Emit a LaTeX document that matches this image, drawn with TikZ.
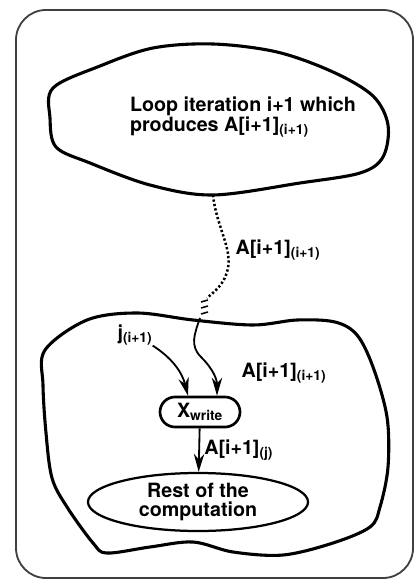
\documentclass[tikz,border=0pt]{standalone}
\usepackage{fontspec}
\setmainfont{TeX Gyre Heros}
\usepackage{tikz}
\usetikzlibrary{shapes.geometric, shapes.misc, arrows.meta, positioning, calc}
\tikzstyle{txt} = [font=\fontsize{14}{14}\selectfont\bfseries,
inner sep=0pt]
\tikzstyle{blob} = [line width=2.2pt,
line join=round]
\tikzstyle{frame} = [line width=1.3pt,
draw=black!75,
rounded corners=0.75cm]
\tikzstyle{writer} = [rounded rectangle,
draw=black,
line width=1.9pt,
minimum width=2cm,
minimum height=0.75cm,
inner sep=1pt]
\tikzstyle{rest} = [ellipse,
draw=black,
line width=1.6pt,
minimum width=5.5cm,
minimum height=1.45cm,
align=center]
\tikzstyle{arrow} = [line width=1.3pt, -{Stealth[length=4.5mm, width=2.6mm]}]
\tikzstyle{remote} = [line width=1.8pt, dash pattern=on 1.6pt off 1.6pt]

\begin{document}
\begin{tikzpicture}[x=0.025cm, y=-0.025cm]
\useasboundingbox (0,0) rectangle (418,582);
\draw[frame] (16,10) rectangle (413,578);

% producing loop iteration
\draw[blob] plot[smooth cycle, tension=0.55] coordinates {(53,88) (100,66) (153,48) (213,44) (277,52) (333,72) (373,96) (388,125) (383,157) (360,173) (300,183) (213,195) (150,185) (90,163) (56,147) (50,118)};
\node (loop) [txt, align=left] at (243,117) {Loop iteration i+1 which\\ produces A[i+1]\textsubscript{(i+1)}};
\coordinate (prodout) at (213,195);

% consuming side
\draw[blob] plot[smooth cycle, tension=0.55] coordinates {(45,350) (87,320) (137,313) (193,320) (253,325) (297,320) (335,322) (357,335) (373,367) (387,417) (388,467) (380,507) (370,527) (333,543) (283,555) (233,552) (193,542) (150,547) (107,553) (93,543) (67,507) (52,478) (46,433) (43,385)};
\node (xwrite) [writer, txt] at (200,412) {X\textsubscript{write}};
\node (rest) [rest, txt] at (198,502) {Rest of the\\computation};
\node (jidx) [txt] at (135,335) {j\textsubscript{(i+1)}};
\node (aloc) [txt] at (284,373) {A[i+1]\textsubscript{(i+1)}};
\node (aflow) [txt] at (278,250) {A[i+1]\textsubscript{(i+1)}};
\coordinate (brk) at (207,298);
\coordinate (brkend) at (200,318);

\draw[remote] (prodout) .. controls (216,225) and (232,248) .. (228,268) .. controls (225,284) and (214,292) .. (brk);
\foreach \t in {0,6,12}
    \draw[line width=1.1pt] ($(brk)+(-6,4+\t)$) -- ++(7,-2);
\draw[arrow] (brkend) .. controls (194,335) and (190,346) .. (201,357) .. controls (214,370) and (217,380) .. ($(xwrite.north)+(17,0)$);
\draw[arrow] (jidx.south east) .. controls (172,358) and (182,372) .. ($(xwrite.north)+(-12,0)$);
\draw[arrow] (xwrite) -- node[txt, anchor=west, xshift=3pt] {A[i+1]\textsubscript{(j)}} (rest);
\end{tikzpicture}
\end{document}
